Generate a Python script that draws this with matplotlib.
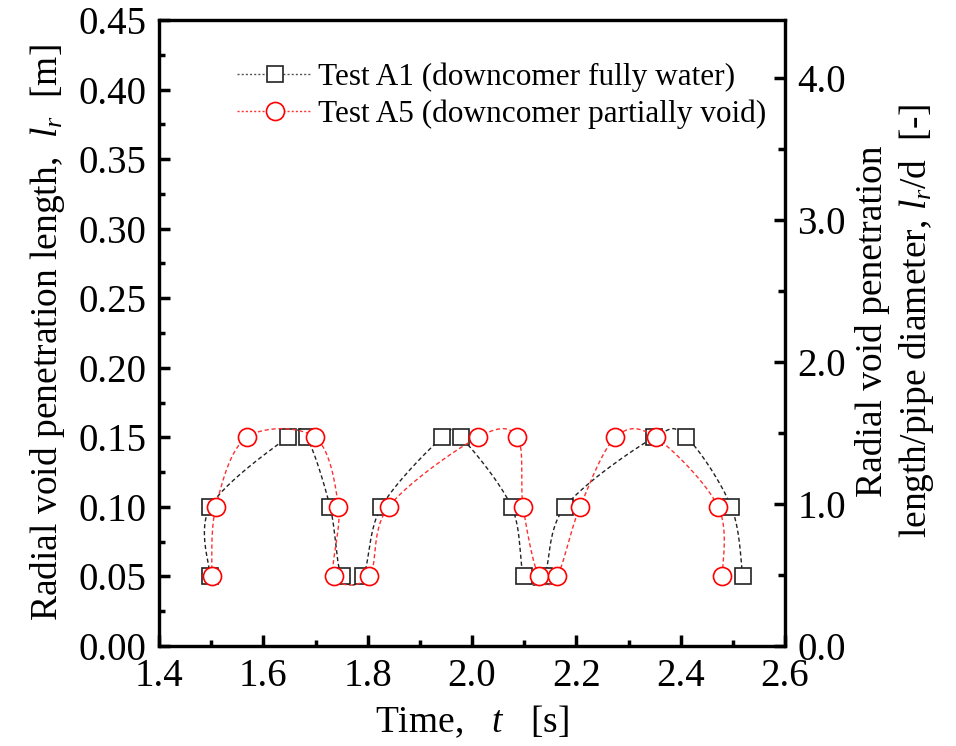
import numpy as np
import matplotlib
matplotlib.use('Agg')
import matplotlib.pyplot as plt
from matplotlib.lines import Line2D
from matplotlib.ticker import MultipleLocator

plt.rcParams['font.family'] = 'Liberation Serif'
plt.rcParams['mathtext.fontset'] = 'custom'
plt.rcParams['mathtext.rm'] = 'Liberation Serif'
plt.rcParams['mathtext.it'] = 'Liberation Serif:italic'

# Test A1 (downcomer fully water)
t_a1 = [1.498, 1.498, 1.647, 1.683, 1.728, 1.750, 1.791, 1.826, 1.943, 1.979,
        2.076, 2.100, 2.138, 2.178, 2.349, 2.411, 2.497, 2.519]
lr_a1 = [0.05, 0.10, 0.15, 0.15, 0.10, 0.05, 0.05, 0.10, 0.15, 0.15,
         0.10, 0.05, 0.05, 0.10, 0.15, 0.15, 0.10, 0.05]

# Test A5 (downcomer partially void)
t_a5 = [1.501, 1.509, 1.568, 1.699, 1.744, 1.736, 1.803, 1.840, 2.011, 2.087,
        2.098, 2.128, 2.163, 2.207, 2.275, 2.352, 2.472, 2.480]
lr_a5 = [0.05, 0.10, 0.15, 0.15, 0.10, 0.05, 0.05, 0.10, 0.15, 0.15,
         0.10, 0.05, 0.05, 0.10, 0.15, 0.15, 0.10, 0.05]

pipe_d = 0.102  # m


def spline(x, y, n=30):
    # Catmull-Rom curve through the points (in normalised axis units)
    p = np.column_stack([np.asarray(x) / 1.2, np.asarray(y) / 0.45])
    p = np.vstack([p[0], p, p[-1]])
    out = []
    s = np.linspace(0, 1, n)[:, None]
    for i in range(1, len(p) - 2):
        p0, p1, p2, p3 = p[i - 1], p[i], p[i + 1], p[i + 2]
        c = 0.5 * ((2 * p1) + (-p0 + p2) * s + (2 * p0 - 5 * p1 + 4 * p2 - p3) * s ** 2
                   + (-p0 + 3 * p1 - 3 * p2 + p3) * s ** 3)
        out.append(c)
    c = np.vstack(out)
    return c[:, 0] * 1.2, c[:, 1] * 0.45


fig = plt.figure(figsize=(9.56, 7.46), dpi=100)
ax = fig.add_axes([159 / 956, 1 - 646 / 746, 626 / 956, 626 / 746])

dash = (0, (3, 2))
xs, ys = spline(t_a1, lr_a1)
ax.plot(xs, ys, color='#222222', lw=1.0, ls=dash, zorder=2)
ax.plot(t_a1, lr_a1, 's', ms=11.5, mfc='white', mec='#222222', mew=1.2, zorder=3)
xs, ys = spline(t_a5, lr_a5)
ax.plot(xs, ys, color='#ff3030', lw=1.0, ls=dash, zorder=4)
ax.plot(t_a5, lr_a5, 'o', ms=13, mfc='white', mec='#ff0000', mew=1.2, zorder=5)

ax.set_xlim(1.4, 2.6)
ax.set_ylim(0, 0.45)
ax.xaxis.set_major_locator(MultipleLocator(0.2))
ax.xaxis.set_minor_locator(MultipleLocator(0.1))
ax.yaxis.set_major_locator(MultipleLocator(0.05))
ax.yaxis.set_minor_locator(MultipleLocator(0.025))
ax.xaxis.set_major_formatter(plt.FormatStrFormatter('%.1f'))
ax.yaxis.set_major_formatter(plt.FormatStrFormatter('%.2f'))
ax.tick_params(which='both', direction='in', top=False, right=False,
               labelsize=28, width=2.5)
ax.tick_params(which='major', length=8, pad=9)
ax.tick_params(which='minor', length=4)
for sp in ax.spines.values():
    sp.set_linewidth(2.3)

ax2 = ax.twinx()
ax2.set_ylim(0, 0.45 / pipe_d)
ax2.yaxis.set_major_locator(MultipleLocator(1.0))
ax2.yaxis.set_minor_locator(MultipleLocator(0.5))
ax2.yaxis.set_major_formatter(plt.FormatStrFormatter('%.1f'))
ax2.tick_params(which='both', direction='in', labelsize=28, width=2.5)
ax2.tick_params(which='major', length=8, pad=9)
ax2.tick_params(which='minor', length=5)
for sp in ax2.spines.values():
    sp.set_linewidth(2.3)

ax.set_xlabel('Time,   $t$   [s]', fontsize=27, labelpad=6)
ax.set_ylabel('Radial void penetration length,  $l_r$  [m]', fontsize=27, labelpad=8)
fig.text(0.937, 0.57, 'Radial void penetration\nlength/pipe diameter, $l_r$/d  [-]',
         rotation=90, ha='center', va='center', fontsize=27, multialignment='center',
         linespacing=1.25)

handles = [
    Line2D([], [], color='#555555', lw=1.0, ls=(0, (1.5, 1.5)), marker='s', ms=11.5,
           mfc='white', mec='#222222', mew=1.2),
    Line2D([], [], color='#ff3030', lw=1.0, ls=(0, (1.5, 1.5)), marker='o', ms=13,
           mfc='white', mec='#ff0000', mew=1.2),
]
ax.legend(handles, ['Test A1 (downcomer fully water)', 'Test A5 (downcomer partially void)'],
          loc='upper left', bbox_to_anchor=(0.125, 0.932), frameon=False, fontsize=22.5,
          handlelength=2.4, handletextpad=0.2, labelspacing=0.25, borderpad=0,
          borderaxespad=0)

fig.savefig('out.png', dpi=100)
